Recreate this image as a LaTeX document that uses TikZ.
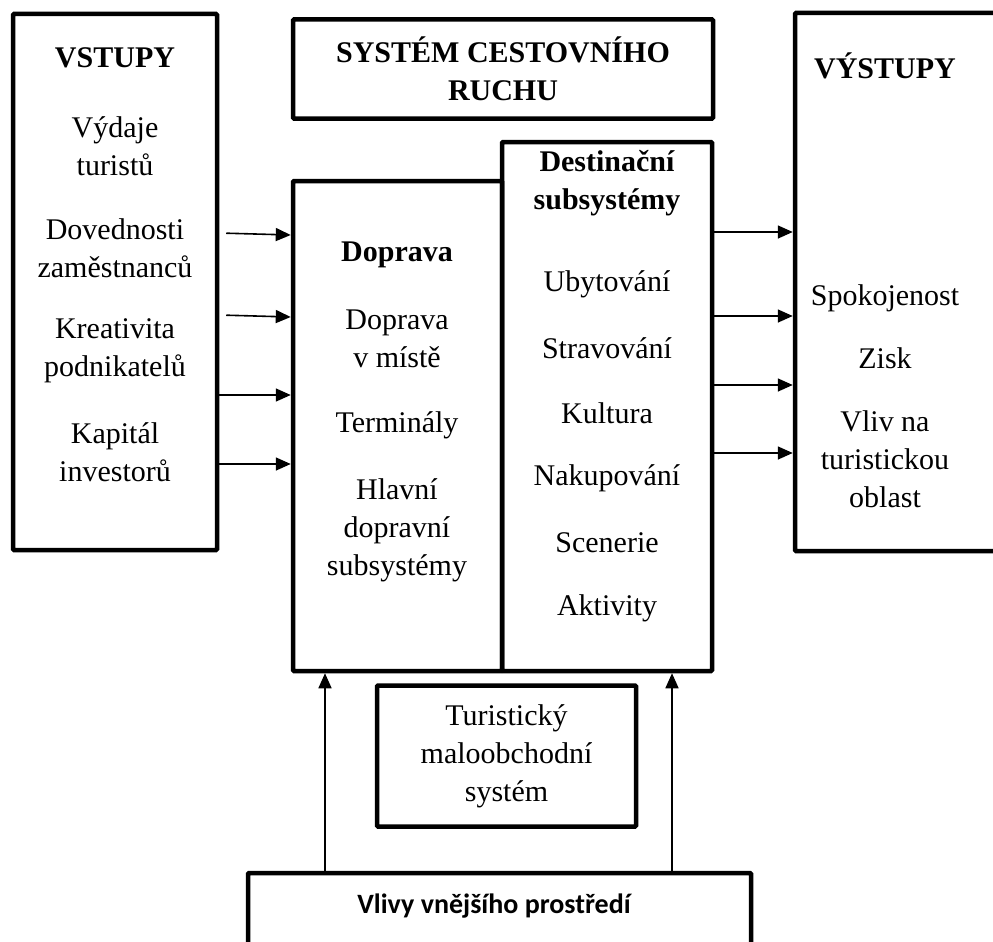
\documentclass[tikz,border=0pt]{standalone}
\usepackage{fontspec}
\setmainfont{Liberation Serif}
\newfontfamily\calibrifont{Carlito}
\usetikzlibrary{arrows.meta}
\begin{document}
\begin{tikzpicture}[x=1pt,y=-1pt,
  box/.style={draw, line width=4.5pt, rounded corners=1pt, inner sep=0pt},
  txt/.style={align=center, inner sep=0pt, font=\fontsize{30}{38}\selectfont},
  hd/.style={align=center, inner sep=0pt, font=\fontsize{30}{38}\selectfont\bfseries},
  arr/.style={line width=1.6pt, -{Triangle[length=15pt,width=13pt]}}]
\useasboundingbox (0,0) rectangle (993,942);

% frames
\node[box, minimum width=204pt, minimum height=536pt] (inp) at (115,282) {};
\node[box, minimum width=420pt, minimum height=99pt, hd] (title) at (503,69) {SYSTÉM CESTOVNÍHO\\RUCHU};
\node[box, minimum width=209pt, minimum height=490pt] (dop) at (397.5,426) {};
\node[box, minimum width=210pt, minimum height=529pt] (dest) at (607,406.5) {};
\node[box, minimum width=225pt, minimum height=538pt] (out) at (907.5,282) {};
\node[box, minimum width=259pt, minimum height=141pt, txt] (ret) at (506.5,756) {Turistický\\maloobchodní\\systém};
\node[box, minimum width=503pt, minimum height=127pt] (env) at (499.5,936.5) {};

% inputs
\node[hd] (inHead) at (115,58) {VSTUPY};
\node[txt] (in1) at (115,146) {Výdaje\\turistů};
\node[txt] (in2) at (115,248) {Dovednosti\\zaměstnanců};
\node[txt] (in3) at (115,351) {Kreativita\\podnikatelů};
\node[txt] (in4) at (115,452) {Kapitál\\investorů};

% transport
\node[hd] (dopHead) at (397,255) {Doprava};
\node[txt] (dop1) at (397,339) {Doprava\\v místě};
\node[txt] (dop2) at (397,425) {Terminály};
\node[txt] (dop3) at (397,530) {Hlavní\\dopravní\\subsystémy};

% destination subsystems
\node[hd] (destHead) at (607,183) {Destinační\\subsystémy};
\node[txt] (d1) at (607,284) {Ubytování};
\node[txt] (d2) at (607,348) {Stravování};
\node[txt] (d3) at (607,413) {Kultura};
\node[txt] (d4) at (607,478) {Nakupování};
\node[txt] (d5) at (607,543) {Scenerie};
\node[txt] (d6) at (607,608) {Aktivity};

% outputs
\node[hd] (outHead) at (885,66) {VÝSTUPY};
\node[txt] (o1) at (885,298) {Spokojenost};
\node[txt] (o2) at (885,358) {Zisk};
\node[txt] (o3) at (885,459) {Vliv na\\turistickou\\oblast};

% environment
\node[font=\calibrifont\fontsize{28}{34}\selectfont\bfseries, inner sep=0pt] (envText) at (494,906) {Vlivy vnějšího prostředí};

% connectors
\draw[arr, shorten <=7pt] (inp.east |- 0,233) -- (dop.west |- 0,235);
\draw[arr, shorten <=7pt] (inp.east |- 0,315) -- (dop.west |- 0,317);
\draw[arr] (inp.east |- 0,395) -- (dop.west |- 0,395);
\draw[arr] (inp.east |- 0,464) -- (dop.west |- 0,464);

\draw[arr] (dest.east |- 0,232) -- (out.west |- 0,232);
\draw[arr] (dest.east |- 0,316) -- (out.west |- 0,316);
\draw[arr] (dest.east |- 0,385) -- (out.west |- 0,385);
\draw[arr] (dest.east |- 0,453) -- (out.west |- 0,453);

\draw[arr] (env.north -| 325,0) -- (dop.south -| 325,0);
\draw[arr] (env.north -| 672,0) -- (dest.south -| 672,0);
\end{tikzpicture}
\end{document}
